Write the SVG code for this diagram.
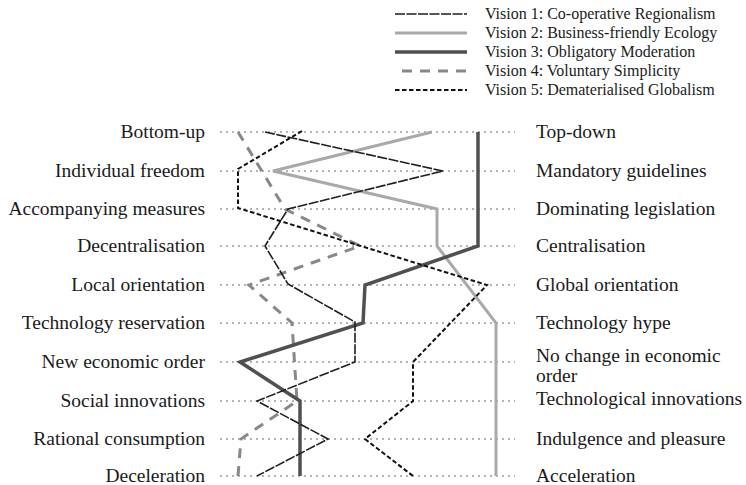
<svg xmlns="http://www.w3.org/2000/svg" width="746" height="485" viewBox="0 0 746 485">
<style>
text{font-family:"Liberation Serif","Times New Roman",serif;fill:#1a1a1a}
.lg{font-size:16px}
.lb{font-size:19.5px}
.l{text-anchor:end}
.grid line{stroke:#b4b4b4;stroke-width:2;stroke-dasharray:2 4}
.v{fill:none;stroke-linejoin:miter}
.v1{stroke:#1e1e1e;stroke-width:1.6;stroke-dasharray:10 1.5}
.v2{stroke:#a9a9a9;stroke-width:3}
.v3{stroke:#505050;stroke-width:3.5}
.v4{stroke:#888;stroke-width:3;stroke-dasharray:10 8}
.v5{stroke:#111;stroke-width:2;stroke-dasharray:4.5 2.5}
</style>
<g id="legend">
<line class="v v1" x1="395" y1="14" x2="467" y2="14"/>
<line class="v v2" x1="395" y1="33" x2="467" y2="33"/>
<line class="v v3" x1="395" y1="52" x2="467" y2="52"/>
<line class="v v4" x1="402" y1="71" x2="467" y2="71"/>
<line class="v v5" x1="395" y1="90" x2="467" y2="90"/>
<text class="lg" x="485" y="19">Vision 1: Co-operative Regionalism</text>
<text class="lg" x="485" y="38">Vision 2: Business-friendly Ecology</text>
<text class="lg" x="485" y="57">Vision 3: Obligatory Moderation</text>
<text class="lg" x="485" y="76">Vision 4: Voluntary Simplicity</text>
<text class="lg" x="485" y="95">Vision 5: Dematerialised Globalism</text>
</g>
<g class="grid" id="grid">
<line x1="220" y1="132" x2="515" y2="132"/>
<line x1="220" y1="171" x2="515" y2="171"/>
<line x1="220" y1="209" x2="515" y2="209"/>
<line x1="220" y1="246" x2="515" y2="246"/>
<line x1="220" y1="285" x2="515" y2="285"/>
<line x1="220" y1="323" x2="515" y2="323"/>
<line x1="220" y1="362" x2="515" y2="362"/>
<line x1="220" y1="401" x2="515" y2="401"/>
<line x1="220" y1="439" x2="515" y2="439"/>
<line x1="220" y1="476" x2="515" y2="476"/>
</g>
<g id="labels-left">
<text class="lb l" x="205" y="138">Bottom-up</text>
<text class="lb l" x="205" y="177">Individual freedom</text>
<text class="lb l" x="205" y="215">Accompanying measures</text>
<text class="lb l" x="205" y="252">Decentralisation</text>
<text class="lb l" x="205" y="291">Local orientation</text>
<text class="lb l" x="205" y="329">Technology reservation</text>
<text class="lb l" x="205" y="368">New economic order</text>
<text class="lb l" x="205" y="407">Social innovations</text>
<text class="lb l" x="205" y="445">Rational consumption</text>
<text class="lb l" x="205" y="482">Deceleration</text>
</g>
<g id="labels-right">
<text class="lb" x="536" y="138">Top-down</text>
<text class="lb" x="536" y="177">Mandatory guidelines</text>
<text class="lb" x="536" y="215">Dominating legislation</text>
<text class="lb" x="536" y="252">Centralisation</text>
<text class="lb" x="536" y="291">Global orientation</text>
<text class="lb" x="536" y="329">Technology hype</text>
<text class="lb" x="536" y="362">No change in economic</text>
<text class="lb" x="536" y="382">order</text>
<text class="lb" x="536" y="405">Technological innovations</text>
<text class="lb" x="536" y="445">Indulgence and pleasure</text>
<text class="lb" x="536" y="482">Acceleration</text>
</g>
<g id="connectors">
<polyline id="vision2" class="v v2" points="432,132 273,171 437,209 437,246 496,323 496,476"/>
<polyline id="vision4" class="v v4" points="238,132 285,209 360,246 249,285 292,323 297,401 241,439 238,476"/>
<polyline id="vision3" class="v v3" points="478,132 478,246 365,285 363,323 240,362 300,401 300,476"/>
<polyline id="vision1" class="v v1" points="265,132 443,171 288,209 265,246 288,284 355,322 355,362 257,401 328,439 257,476"/>
<polyline id="vision5" class="v v5" points="302,131 238,169 238,208 487,285 413,362 413,401 365,439 413,476"/>
</g>
</svg>
